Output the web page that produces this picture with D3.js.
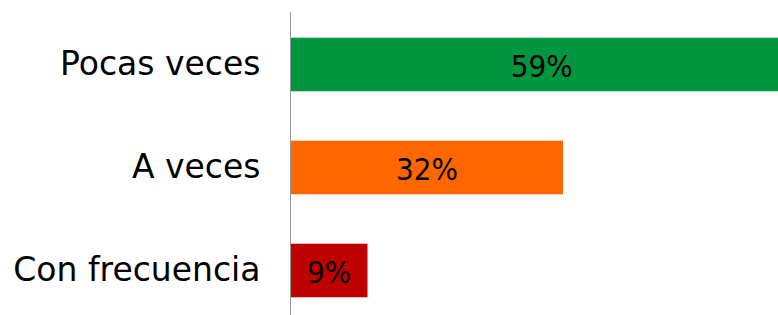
<!DOCTYPE html>
<html>
<head>
<meta charset="utf-8">
<script src="https://cdn.jsdelivr.net/npm/d3@7"></script>
<style>
  html, body { margin: 0; padding: 0; background: #fff; overflow: hidden; }
  svg { display: block; }
</style>
</head>
<body>
<svg id="chart" width="778" height="315"></svg>
<script>
const categories = ["Pocas veces", "A veces", "Con frecuencia"];
const values = [0.59, 0.32, 0.09];
const valueLabels = ["59%", "32%", "9%"];
const colors = ["#009640", "#FF6600", "#C00000"];

const W = 778, H = 315;
const svg = d3.select("#chart");
const x0 = 291;
const font = "'DejaVu Sans', sans-serif";

const x = d3.scaleLinear().domain([0, 1]).range([x0, x0 + 850]);
const y = d3.scaleBand().domain(categories).range([13, 322])
  .paddingInner(0.48).paddingOuter(0.24);

const data = categories.map((c, i) => ({ c, v: values[i], label: valueLabels[i], color: colors[i] }));

svg.append("g").selectAll("rect").data(data).join("rect")
  .attr("x", x(0))
  .attr("y", d => y(d.c))
  .attr("width", d => x(d.v) - x(0))
  .attr("height", y.bandwidth())
  .attr("fill", d => d.color);

// value labels
svg.append("g").selectAll("text").data(data).join("text")
  .attr("transform", d => `translate(${(x(0) + x(d.v)) / 2},${y(d.c) + y.bandwidth() / 2 + 12}) scale(0.9,1)`)
  .attr("text-anchor", "middle")
  .attr("font-family", font)
  .attr("font-size", 31)
  .attr("fill", "#000")
  .text(d => d.label);

// category axis
const axis = d3.axisLeft(y).tickSize(0).tickPadding(30);
const g = svg.append("g").attr("transform", `translate(${x0 - 0.5},0)`).call(axis);
g.select(".domain").remove();
g.selectAll(".tick text")
  .attr("font-family", font)
  .attr("font-size", 33)
  .attr("fill", "#000")
  .attr("dy", "0.32em");

svg.append("line")
  .attr("x1", x0 - 0.5).attr("x2", x0 - 0.5)
  .attr("y1", 12).attr("y2", H)
  .attr("stroke", "#999").attr("stroke-width", 1);
</script>
</body>
</html>
